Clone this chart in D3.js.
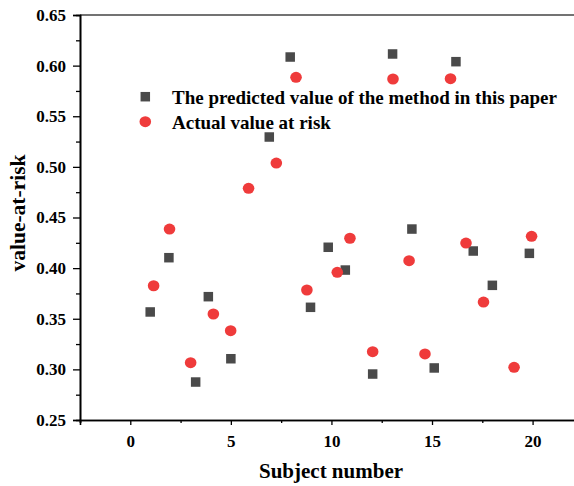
<!DOCTYPE html>
<html>
<head>
<meta charset="utf-8">
<script src="https://cdn.jsdelivr.net/npm/d3@7"></script>
<style>
  html, body { margin: 0; padding: 0; background: #fff; }
  svg { display: block; }
  text { font-family: "Liberation Serif", "Times New Roman", serif; font-weight: bold; fill: #000; }
</style>
</head>
<body>
<svg id="chart" width="574" height="486"></svg>
<script>
// Predicted value of the method (squares)
const predX = [0.99, 1.92, 3.25, 3.88, 5.0, 6.91, 7.95, 8.96, 9.84, 10.69, 12.05, 13.04, 14.0, 15.11, 16.19, 17.05, 18.0, 19.84];
const predY = [0.3567, 0.4103, 0.2875, 0.3718, 0.3105, 0.5295, 0.6085, 0.3613, 0.4206, 0.3981, 0.2954, 0.6115, 0.4386, 0.3014, 0.6039, 0.4169, 0.383, 0.4146];
// Actual value at risk (circles)
const actX = [1.16, 1.95, 3.0, 4.13, 4.99, 5.88, 7.26, 8.24, 8.78, 10.29, 10.92, 12.05, 13.06, 13.86, 14.65, 15.92, 16.69, 17.56, 19.08, 19.95];
const actY = [0.3826, 0.4386, 0.3066, 0.3547, 0.3382, 0.4788, 0.5038, 0.5885, 0.3784, 0.3959, 0.4295, 0.3175, 0.5868, 0.4073, 0.3152, 0.5871, 0.4248, 0.3665, 0.3020, 0.4314];

const xTicks = [0, 5, 10, 15, 20];
const xMinor = [-2.5, 2.5, 7.5, 12.5, 17.5];
const yTicks = [0.25, 0.30, 0.35, 0.40, 0.45, 0.50, 0.55, 0.60, 0.65];
const yMinor = [0.275, 0.325, 0.375, 0.425, 0.475, 0.525, 0.575, 0.625];
const legendLabels = ["The predicted value of the method in this paper", "Actual value at risk"];
const xTitle = "Subject number";
const yTitle = "value-at-risk";

const svg = d3.select("#chart");
const plotLeft = 80, plotTop = 15, plotBottom = 420;
const x = d3.scaleLinear().domain([-2.5, 22.5]).range([plotLeft, plotLeft + 25 * 20.115]);
const y = d3.scaleLinear().domain([0.25, 0.65]).range([plotBottom, plotTop]);

const sqColor = "#4a4a4a", ciColor = "#ef3b3b";

// top frame line
svg.append("line").attr("x1", plotLeft).attr("x2", 574).attr("y1", plotTop).attr("y2", plotTop)
  .attr("stroke", "#444").attr("stroke-width", 1.6);

// X axis
const gx = svg.append("g").attr("transform", `translate(0,${plotBottom})`);
gx.call(d3.axisBottom(x).tickValues(xTicks).tickSize(5).tickFormat(d3.format("d")));
gx.append("g").call(d3.axisBottom(x).tickValues(xMinor).tickSize(3).tickFormat(""));
gx.selectAll(".domain").attr("stroke", "#000").attr("stroke-width", 1.6);
gx.selectAll(".tick line").attr("stroke", "#000").attr("stroke-width", 1.3);
gx.selectAll(".tick text").attr("font-size", 17).attr("font-family", "Liberation Serif").attr("font-weight", "bold").attr("dy", "0.71em").attr("y", 15);

// Y axis
const gy = svg.append("g").attr("transform", `translate(${plotLeft},0)`);
gy.call(d3.axisLeft(y).tickValues(yTicks).tickSize(7).tickFormat(d3.format(".2f")));
gy.append("g").call(d3.axisLeft(y).tickValues(yMinor).tickSize(4).tickFormat(""));
gy.selectAll(".domain").attr("stroke", "#000").attr("stroke-width", 1.6);
gy.selectAll(".tick line").attr("stroke", "#000").attr("stroke-width", 1.3);
gy.selectAll(".tick text").attr("font-size", 17).attr("font-family", "Liberation Serif").attr("font-weight", "bold").attr("x", -14);

// titles
svg.append("text").attr("x", 331).attr("y", 478).attr("text-anchor", "middle")
  .attr("font-size", 21).text(xTitle);
svg.append("text").attr("transform", "translate(25,213) rotate(-90)").attr("text-anchor", "middle")
  .attr("font-size", 21.5).text(yTitle);

// points
const sq = 9.5;
svg.append("g").selectAll("rect").data(predX.map((d, i) => [d, predY[i]])).join("rect")
  .attr("x", d => x(d[0]) - sq / 2).attr("y", d => y(d[1]) - sq / 2)
  .attr("width", sq).attr("height", sq).attr("fill", sqColor);
svg.append("g").selectAll("ellipse").data(actX.map((d, i) => [d, actY[i]])).join("ellipse")
  .attr("cx", d => x(d[0])).attr("cy", d => y(d[1]))
  .attr("rx", 5.8).attr("ry", 5.5).attr("fill", ciColor);

// legend
const lg = svg.append("g");
lg.append("rect").attr("x", 145.3 - sq / 2).attr("y", 96.7 - sq / 2).attr("width", sq).attr("height", sq).attr("fill", sqColor);
lg.append("ellipse").attr("cx", 145.3).attr("cy", 121.7).attr("rx", 5.8).attr("ry", 5.5).attr("fill", ciColor);
lg.selectAll("text").data(legendLabels).join("text")
  .attr("x", 172).attr("y", (d, i) => 97 + i * 25).attr("dy", "0.35em")
  .attr("font-size", 19).text(d => d);
</script>
</body>
</html>
